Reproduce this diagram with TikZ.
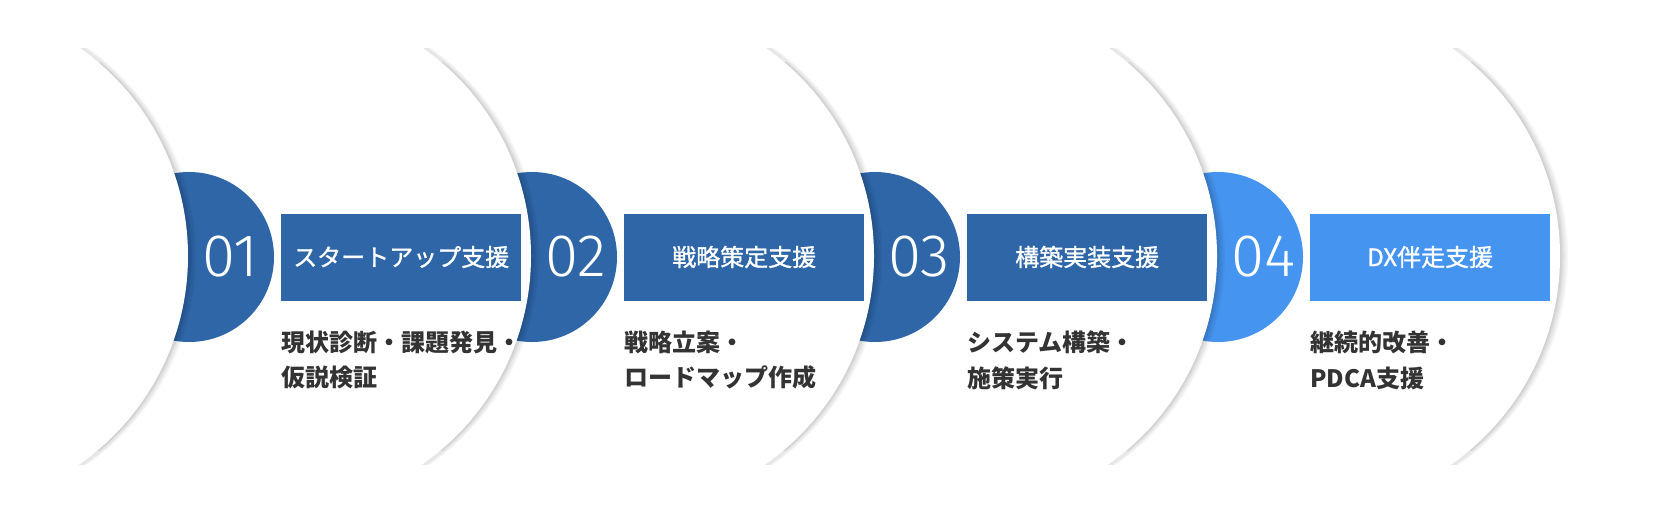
\documentclass[tikz,border=0pt]{standalone}
\usepackage{fontspec}
\usepackage{xcolor}
\usepackage{tikz}
\usetikzlibrary{positioning}

\newfontfamily\jpfont{Noto Sans CJK JP}
\newfontfamily\jpmid{Noto Sans CJK JP}[FakeBold=1.2]
\IfFontExistsTF{Fira Sans Light}
	{\newfontfamily\numfont{Fira Sans Light}}
	{\newfontfamily\numfont{Liberation Sans}}

\definecolor{stepblue}{RGB}{46,102,168}
\definecolor{lastblue}{RGB}{69,148,240}
\definecolor{desctext}{RGB}{51,51,51}

% white circle with a soft shadow on its right side
\newcommand{\softcircle}[1]{%
	\begin{scope}
		\clip (-100,48) rectangle (1760,464);
		\fill[halo] ({#1+8},256) circle (254);
		\fill[halo] ({#1+6.5},256) circle (254);
		\fill[halo] ({#1+5},256) circle (254);
	\end{scope}
	\begin{scope}
		\clip (-100,62) rectangle (1760,450);
		\fill[halo] ({#1+3.5},256) circle (254);
		\fill[halo] ({#1+2.5},256) circle (254);
		\fill[halo] ({#1+1.5},256) circle (254);
	\end{scope}
	\fill[white] (#1,256) circle (254);
}

\begin{document}
\begin{tikzpicture}[
			x=1pt, y=-1pt,
			disc/.style={
				circle,
				minimum size=170pt,
				inner sep=0pt
			},
			stepnum/.style={
				text=white,
				inner sep=0pt,
				font=\numfont\fontsize{60}{60}\selectfont
			},
			titlebox/.style={
				minimum width=240pt,
				minimum height=87pt,
				inner sep=0pt,
				text=white,
				font=\jpmid\fontsize{24}{24}\selectfont
			},
			desc/.style={
				align=left,
				inner sep=0pt,
				text=desctext,
				font=\jpfont\bfseries\fontsize{24}{35.5}\selectfont
			},
			halo/.style={
				black,
				opacity=0.03
			}
			]
			
			\fill[white] (0,0) rectangle (1656,512);
			\useasboundingbox (0,0) rectangle (1656,512);
			\clip (0,0) rectangle (1656,512);
			
			%=====================================================================
			% Step 04 (drawn first, each circle to its left covers its disc)
			%=====================================================================
			
			\softcircle{1306}
			
			\node[disc, fill=lastblue] (disc4) at (1218,257) {};
			
			\node[stepnum, right=13pt of disc4.center] (num4) {04};
			
			\node[titlebox, fill=lastblue, right=92pt of disc4.center] (title4)
			{DX伴走支援};
			
			\node[desc, below right=30pt and 0pt of title4.south west] (desc4)
			{継続的改善・\\PDCA支援};
			
			%=====================================================================
			% Step 03
			%=====================================================================
			
			\softcircle{963}
			
			\node[disc, fill=stepblue] (disc3) at (875,257) {};
			
			\node[stepnum, right=13pt of disc3.center] (num3) {03};
			
			\node[titlebox, fill=stepblue, right=92pt of disc3.center] (title3)
			{構築実装支援};
			
			\node[desc, below right=30pt and 0pt of title3.south west] (desc3)
			{システム構築・\\施策実行};
			
			%=====================================================================
			% Step 02
			%=====================================================================
			
			\softcircle{620}
			
			\node[disc, fill=stepblue] (disc2) at (532,257) {};
			
			\node[stepnum, right=13pt of disc2.center] (num2) {02};
			
			\node[titlebox, fill=stepblue, right=92pt of disc2.center] (title2)
			{戦略策定支援};
			
			\node[desc, below right=30pt and 0pt of title2.south west] (desc2)
			{戦略立案・\\ロードマップ作成};
			
			%=====================================================================
			% Step 01
			%=====================================================================
			
			\softcircle{277}
			
			\node[disc, fill=stepblue] (disc1) at (189,257) {};
			
			\node[stepnum, right=13pt of disc1.center] (num1) {01};
			
			\node[titlebox, fill=stepblue, right=92pt of disc1.center] (title1)
			{スタートアップ支援};
			
			\node[desc, below right=30pt and 0pt of title1.south west] (desc1)
			{現状診断・課題発見・\\仮説検証};
			
			%=====================================================================
			% Leftmost circle
			%=====================================================================
			
			\softcircle{-66}
			
		\end{tikzpicture}
\end{document}
